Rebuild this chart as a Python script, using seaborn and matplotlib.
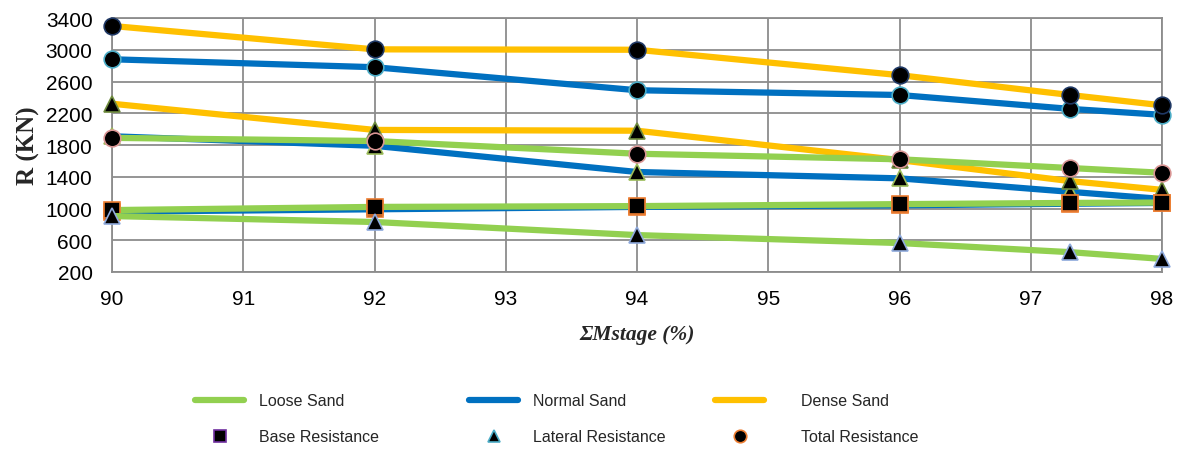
import matplotlib
matplotlib.use("Agg")
import matplotlib.pyplot as plt
from matplotlib.lines import Line2D
import seaborn as sns
import pandas as pd

# ---- data ----
x_vals = [90, 92, 94, 96, 97.3, 98]
loose_total = [1890, 1850, 1690, 1620, 1510, 1450]
loose_base = [980, 1020, 1030, 1055, 1070, 1075]
loose_lateral = [905, 830, 665, 565, 450, 365]
normal_total = [2880, 2780, 2490, 2430, 2255, 2180]
normal_base = [960, 990, 1020, 1040, 1060, 1070]
normal_lateral = [1910, 1790, 1460, 1380, 1210, 1120]
dense_total = [3300, 3005, 3000, 2680, 2430, 2300]
dense_lateral = [2320, 1990, 1980, 1610, 1345, 1235]

x_ticks = [90, 91, 92, 93, 94, 95, 96, 97, 98]
y_ticks = [200, 600, 1000, 1400, 1800, 2200, 2600, 3000, 3400]

green = "#92D050"
blue = "#0070C0"
yellow = "#FFC000"

sns.set_theme(style="white")
plt.rcParams["font.family"] = ["Liberation Sans", "DejaVu Sans"]

fig = plt.figure(figsize=(11.86, 4.52), dpi=100)
ax = fig.add_axes([112 / 1186, 1 - 273 / 452, (1162 - 112) / 1186, (273 - 19) / 452])

series = [
    # values, color, marker, edgecolor, zorder
    (normal_base, blue, "s", "#ED7D31", 2),
    (normal_lateral, blue, "^", "#9BBB59", 3),
    (normal_total, blue, "o", "#4BACC6", 3),
    (dense_total, yellow, "o", "#1F3864", 3),
    (dense_lateral, yellow, "^", "#6E8B3D", 3),
    (loose_total, green, "o", "#D99594", 4),
    (loose_base, green, "s", "#ED7D31", 4),
    (loose_lateral, green, "^", "#8EA9DB", 4),
]

for vals, col, mk, ec, z in series:
    df = pd.DataFrame({"x": x_vals, "y": vals})
    sns.lineplot(data=df, x="x", y="y", ax=ax, color=col, linewidth=4.5,
                 marker=mk, markersize=12, markerfacecolor="black",
                 markeredgecolor=ec, markeredgewidth=1.2, zorder=z,
                 legend=False, clip_on=False)

ax.set_xlim(90, 98)
ax.set_ylim(200, 3400)
ax.set_xticks(x_ticks)
ax.set_yticks(y_ticks)
ax.tick_params(axis="x", labelsize=15, length=0, pad=12, colors="black")
ax.tick_params(axis="y", labelsize=15, length=0, pad=14, colors="black")
ax.grid(True, color="#8C8C8C", linewidth=1.3)
ax.set_axisbelow(True)
for sp in ax.spines.values():
    sp.set_color("#8C8C8C")
    sp.set_linewidth(1.3)

ax.set_xlabel("ΣMstage (%)", fontsize=15.5, fontweight="bold", fontstyle="italic",
              family=["Liberation Serif", "DejaVu Serif"], labelpad=12)
ax.set_ylabel("R (KN)", fontsize=18, fontweight="bold",
              family=["Liberation Serif", "DejaVu Serif"], labelpad=4)

# ---- legends (three columns) ----
col_specs = [
    ("Loose Sand", green, "Base Resistance", "s", "#7030A0", 190 / 1186, 0.9),
    ("Normal Sand", blue, "Lateral Resistance", "^", "#4BACC6", 464 / 1186, 0.9),
    ("Dense Sand", yellow, "Total Resistance", "o", "#ED7D31", 710 / 1186, 2.3),
]
for lab1, c, lab2, mk, ec, xpos, tpad in col_specs:
    h1 = Line2D([], [], color=c, linewidth=4.5)
    h2 = Line2D([], [], linestyle="none", marker=mk, markersize=9,
                markerfacecolor="black", markeredgecolor=ec, markeredgewidth=1.2)
    leg = fig.legend([h1, h2], [lab1, lab2], loc="upper left",
                     bbox_to_anchor=(xpos - 0.008, 1 - 380 / 452), frameon=False,
                     fontsize=11.5, handlelength=3.1, handletextpad=tpad,
                     labelspacing=1.3)

fig.savefig("out.png", dpi=100)
